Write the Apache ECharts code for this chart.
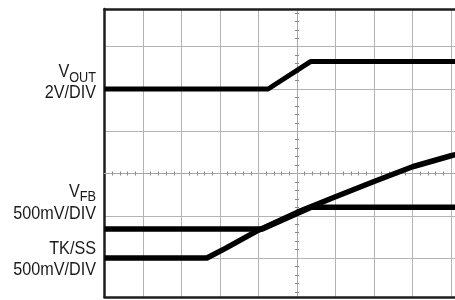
<!DOCTYPE html>
<html>
<head>
<meta charset="utf-8">
<script src="https://cdn.jsdelivr.net/npm/echarts@6/dist/echarts.min.js"></script>
<style>
html,body{margin:0;padding:0;background:#fff;}
#chart{width:455px;height:300px;}
</style>
</head>
<body>
<div id="chart"></div>
<script>
// Time axis in horizontal divisions, amplitude in vertical divisions (0 = centre line)
const vOutTime = [0, 4.25, 5.35, 9.3];
const vOutDiv  = [2.0, 2.0, 2.65, 2.65];
const vFbTime  = [0, 4.1, 5.37, 9.3];
const vFbDiv   = [-1.31, -1.31, -0.8, -0.8];
const tkSsTime = [0, 2.66, 3.14, 4.0, 5.0, 6.0, 7.0, 8.0, 9.0, 9.3];
const tkSsDiv  = [-2.0, -2.0, -1.77, -1.34, -0.92, -0.55, -0.19, 0.16, 0.42, 0.49];
const labelVOut = ['V', 'OUT', '2V/DIV'];
const labelVFb  = ['V', 'FB', '500mV/DIV'];
const labelTk   = ['TK/SS', '500mV/DIV'];

const X_MIN = 0, X_MAX = 9.104, Y_MIN = -2.922, Y_MAX = 3.893;
const FONT = "'Liberation Sans', Arial, sans-serif";
const pair = (t, v) => t.map((x, i) => [x, v[i]]);

const chart = echarts.init(document.getElementById('chart'), null, {renderer: 'canvas'});
const border = {show: true, onZero: false, lineStyle: {color: '#1e1e1e', width: 2.5}};
const grid = {color: '#b3b3b3', width: 1};
const centreLine = {show: true, onZero: true, lineStyle: {color: '#a8a8a8', width: 1}};
const centreLineY = {show: true, onZero: false, lineStyle: {color: '#a8a8a8', width: 1}};
const minor = (len) => ({show: true, splitNumber: 5, length: len, lineStyle: {color: '#8a8a8a', width: 1}});

const rich = {
  a: {fontFamily: FONT, fontSize: 18.5, lineHeight: 26, color: '#1a1a1a'},
  b: {fontFamily: FONT, fontSize: 14.5, color: '#1a1a1a', verticalAlign: 'bottom'}
};
function txt(y, text, isRich) {
  return {
    type: 'text', x: 96, y: y, scaleX: 0.875, silent: true,
    style: {
      text: text, align: 'right', verticalAlign: 'middle',
      fontFamily: FONT, fontSize: 18.5, fill: '#1a1a1a',
      rich: isRich ? rich : undefined
    }
  };
}

chart.setOption({
  animation: false,
  backgroundColor: '#ffffff',
  grid: {left: 104.5, right: 0, top: 9, bottom: 3, containLabel: false},
  xAxis: [
    {type: 'value', min: X_MIN, max: X_MAX, interval: 1, position: 'bottom',
     axisLine: border, axisTick: {show: false}, axisLabel: {show: false},
     splitLine: {show: true, showMinLine: false, showMaxLine: false, lineStyle: grid}},
    {type: 'value', min: X_MIN, max: X_MAX, interval: 1, position: 'top',
     axisLine: border, axisTick: {show: false}, axisLabel: {show: false}, splitLine: {show: false}},
    {type: 'value', min: X_MIN, max: X_MAX, interval: 1, position: 'bottom',
     axisLine: centreLine, axisTick: {show: false}, minorTick: minor(2),
     axisLabel: {show: false}, splitLine: {show: false}},
    {type: 'value', min: X_MIN, max: X_MAX, interval: 1, position: 'bottom',
     axisLine: centreLine, axisTick: {show: false}, minorTick: minor(-2),
     axisLabel: {show: false}, splitLine: {show: false}}
  ],
  yAxis: [
    {type: 'value', min: Y_MIN, max: Y_MAX, splitNumber: 7, position: 'left',
     axisLine: border, axisTick: {show: false}, axisLabel: {show: false},
     splitLine: {show: true, showMinLine: false, showMaxLine: false, lineStyle: grid}},
    {type: 'value', min: Y_MIN, max: Y_MAX, splitNumber: 7, position: 'left', offset: -192.5,
     axisLine: centreLineY, axisTick: {show: false}, minorTick: minor(2),
     axisLabel: {show: false}, splitLine: {show: false}},
    {type: 'value', min: Y_MIN, max: Y_MAX, splitNumber: 7, position: 'left', offset: -192.5,
     axisLine: centreLineY, axisTick: {show: false}, minorTick: minor(-2),
     axisLabel: {show: false}, splitLine: {show: false}}
  ],
  series: [
    {name: 'TK/SS', type: 'line', data: pair(tkSsTime, tkSsDiv), symbol: 'none', z: 5,
     lineStyle: {color: '#000', width: 5.5}},
    {name: 'VFB', type: 'line', data: pair(vFbTime, vFbDiv), symbol: 'none', z: 5,
     lineStyle: {color: '#000', width: 5.5}},
    {name: 'VOUT', type: 'line', data: pair(vOutTime, vOutDiv), symbol: 'none', z: 5,
     lineStyle: {color: '#000', width: 5}}
  ],
  graphic: [
    txt(72, '{a|' + labelVOut[0] + '}{b|' + labelVOut[1] + '}', true),
    txt(92.5, labelVOut[2]),
    txt(191.5, '{a|' + labelVFb[0] + '}{b|' + labelVFb[1] + '}', true),
    txt(214, labelVFb[2]),
    txt(248.5, labelTk[0]),
    txt(269.5, labelTk[1])
  ]
});
</script>
</body>
</html>
